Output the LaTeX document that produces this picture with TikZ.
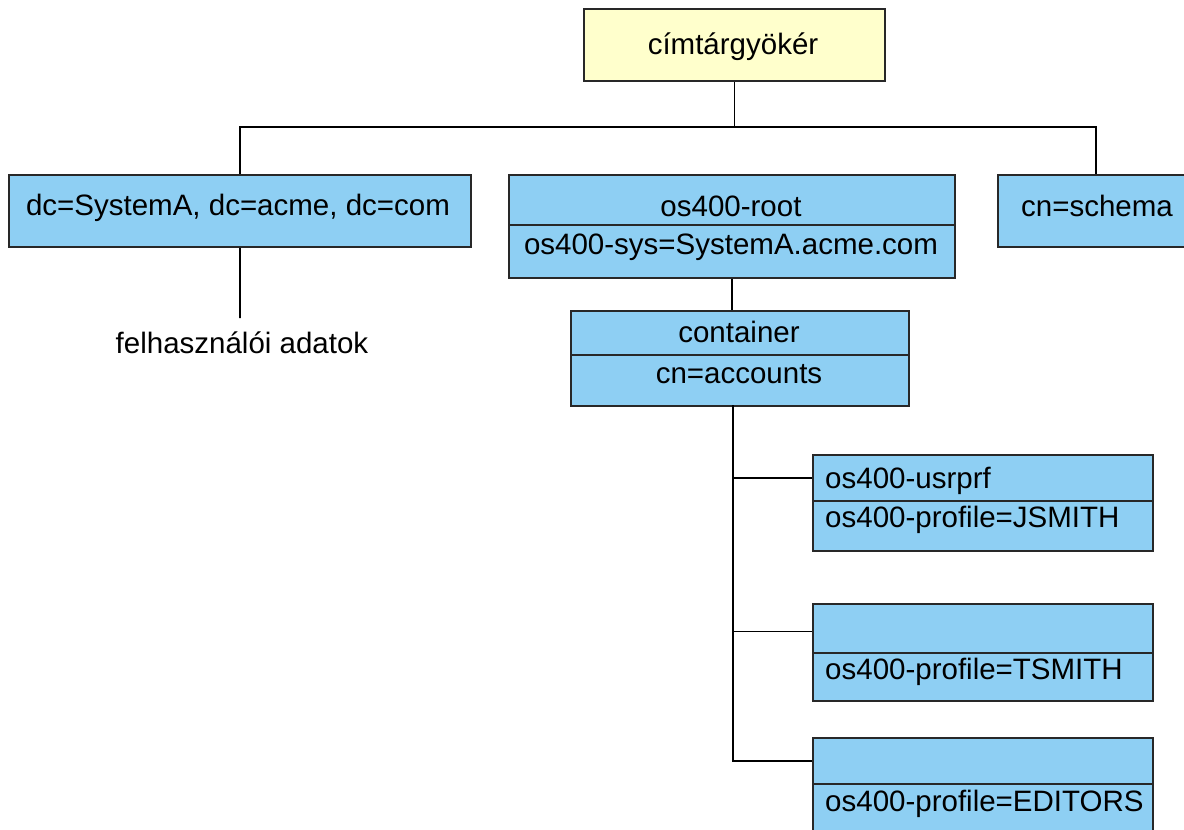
\documentclass[tikz,border=0pt]{standalone}
\usepackage{fontspec}
\setmainfont{Liberation Sans}
\definecolor{boxblue}{RGB}{142,207,243}
\definecolor{rootyellow}{RGB}{255,255,204}
\definecolor{edgegray}{RGB}{40,40,40}
\begin{document}
\begin{tikzpicture}[x=1pt,y=-1pt,
  box/.style={draw=edgegray, line width=1.8pt, fill=boxblue, anchor=north west, inner sep=0pt},
  ybox/.style={box, fill=rootyellow},
  txt/.style={anchor=base, inner sep=0pt, font=\fontsize{29.5}{34}\selectfont},
  txtl/.style={txt, anchor=base west},
  conn/.style={draw=black, line width=1.8pt}]
\useasboundingbox (0,0) rectangle (1184,830);

% root
\node[ybox, minimum width=301pt, minimum height=72pt] (root) at (583,8) {};
\node[txt] (rootT) at (733,54) {címtárgyökér};

% level 1
\node[box, minimum width=462pt, minimum height=72pt] (dc) at (8,174) {};
\node[txt] (dcT) at (238,215) {dc=SystemA, dc=acme, dc=com};

\node[box, minimum width=446pt, minimum height=50pt] (osA) at (508,174) {};
\node[box, minimum width=446pt, minimum height=53pt] (osB) at (508,224) {};
\node[txt] (osAT) at (731,216) {os400-root};
\node[txt] (osBT) at (731,254) {os400-sys=SystemA.acme.com};

\node[box, minimum width=196pt, minimum height=72pt] (schema) at (997,174) {};
\node[txt] (schemaT) at (1097,216) {cn=schema};

% container
\node[box, minimum width=338pt, minimum height=44pt] (contA) at (570,310) {};
\node[box, minimum width=338pt, minimum height=51pt] (contB) at (570,354) {};
\node[txt] (contAT) at (739,342) {container};
\node[txt] (contBT) at (739,383) {cn=accounts};

% user entries
\node[box, minimum width=340pt, minimum height=46pt] (u1A) at (812,454) {};
\node[box, minimum width=340pt, minimum height=50pt] (u1B) at (812,500) {};
\node[txtl] (u1AT) at (825,488) {os400-usrprf};
\node[txtl] (u1BT) at (825,527) {os400-profile=JSMITH};

\node[box, minimum width=340pt, minimum height=49pt] (u2A) at (812,603) {};
\node[box, minimum width=340pt, minimum height=48pt] (u2B) at (812,652) {};
\node[txtl] (u2BT) at (825,679) {os400-profile=TSMITH};

\node[box, minimum width=340pt, minimum height=46pt] (u3A) at (812,737) {};
\node[box, minimum width=340pt, minimum height=60pt] (u3B) at (812,783) {};
\node[txtl] (u3BT) at (825,811) {os400-profile=EDITORS};

% user data label
\coordinate (dcEnd) at (240,318);
\node[txt] (udata) at (242,353) {felhasználói adatok};

% connectors
\coordinate (bus) at (root.south |- 0,127);
\coordinate (trunk) at (733,405);
\draw[conn] (root.south) -- (bus);
\draw[conn] (bus) -| (dc.north);
\draw[conn] (bus) -| (schema.north);
\draw[conn] (dc.south) -- (dcEnd);
\draw[conn] (osB.south) -- (osB.south |- contA.north);
\draw[conn] (trunk) |- (u3A.west);
\draw[conn] (u1A.west) -- (u1A.west -| trunk);
\draw[conn] ([yshift=-3pt]u2A.west) -- ([yshift=-3pt]u2A.west -| trunk);
\end{tikzpicture}
\end{document}
